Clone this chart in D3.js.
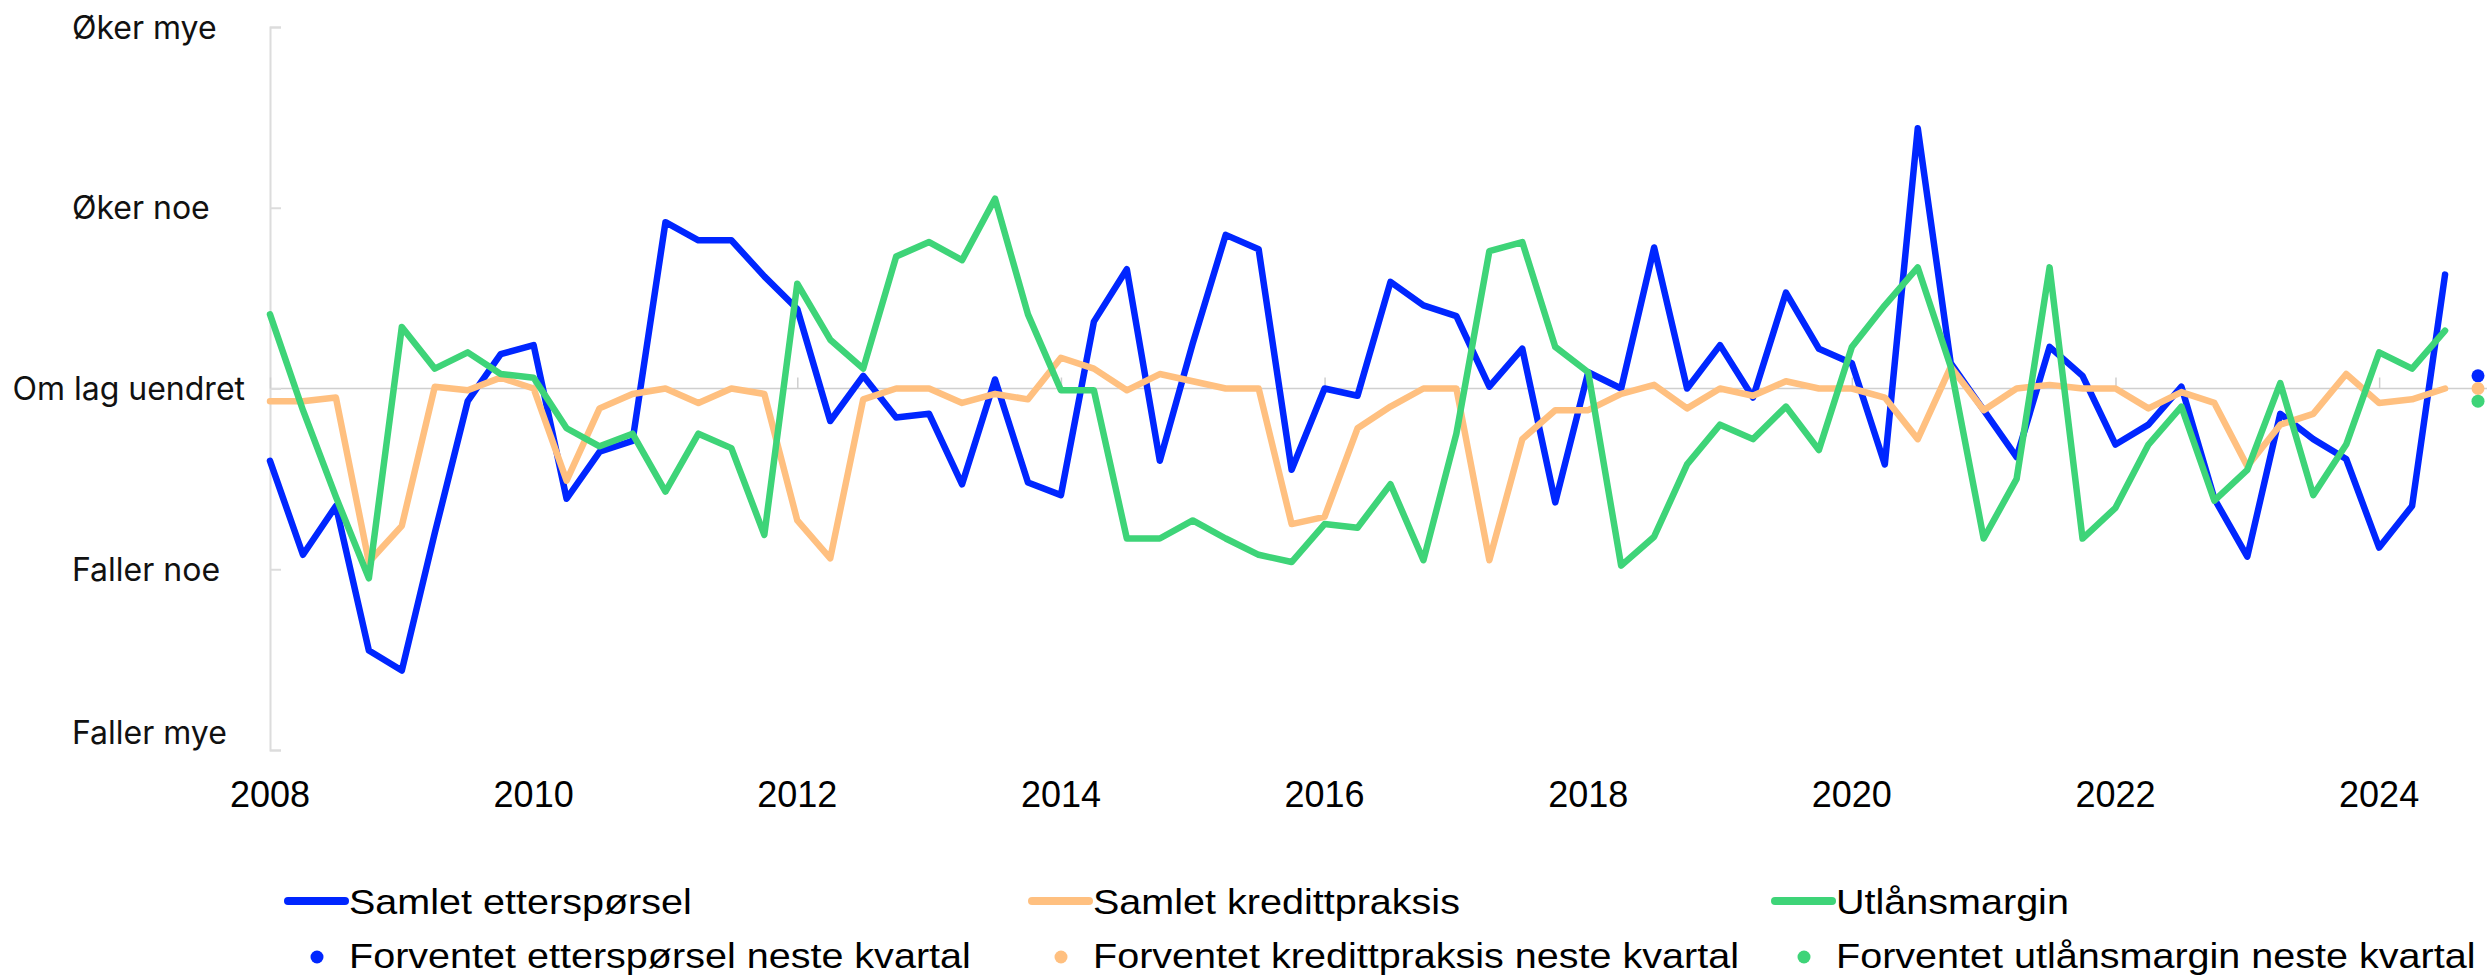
<!DOCTYPE html>
<html>
<head>
<meta charset="utf-8">
<script src="https://cdn.jsdelivr.net/npm/d3@7"></script>
<style>
  body { margin: 0; background: #fff; }
  svg { display: block; }
</style>
</head>
<body>
<div id="main"></div>
<script>
var ctx = {
    width: 2487,
    height: 978,
    left: 270,
    right: 2478,
    top: 27,
    bottom: 750
};

// quarters from 2008 K1 to 2024 K3, forecast at 2024 K4
var startYear = 2008;
var yearTicks = [2008, 2010, 2012, 2014, 2016, 2018, 2020, 2022, 2024];
var yLabels = ["Faller mye", "Faller noe", "Om lag uendret", "Øker noe", "Øker mye"];
var yValues = [-2, -1, 0, 1, 2];

var ettersporsel = [
    -0.40, -0.92, -0.65, -1.45, -1.56, -0.80, -0.07, 0.19,
    0.24, -0.61, -0.35, -0.29, 0.92, 0.82, 0.82, 0.62,
    0.44, -0.18, 0.07, -0.16, -0.14, -0.53, 0.05, -0.52,
    -0.59, 0.37, 0.66, -0.40, 0.25, 0.85, 0.77, -0.45,
    0.00, -0.04, 0.59, 0.46, 0.40, 0.01, 0.22, -0.63,
    0.09, 0.00, 0.78, 0.00, 0.24, -0.05, 0.53, 0.22,
    0.14, -0.42, 1.44, 0.14, -0.12, -0.38, 0.23, 0.07,
    -0.31, -0.20, 0.01, -0.61, -0.93, -0.14, -0.28, -0.39,
    -0.88, -0.65, 0.63
];
var kredittpraksis = [
    -0.07, -0.07, -0.05, -0.96, -0.76, 0.01, -0.01, 0.06,
    0.00, -0.51, -0.11, -0.03, 0.00, -0.08, 0.00, -0.03,
    -0.73, -0.94, -0.06, 0.00, 0.00, -0.08, -0.03, -0.06,
    0.17, 0.11, -0.01, 0.08, 0.04, 0.00, 0.00, -0.75,
    -0.71, -0.22, -0.10, 0.00, 0.00, -0.95, -0.28, -0.12,
    -0.12, -0.03, 0.02, -0.11, 0.00, -0.04, 0.04, 0.00,
    0.00, -0.05, -0.28, 0.12, -0.12, 0.00, 0.02, 0.00,
    0.00, -0.11, -0.02, -0.08, -0.43, -0.20, -0.14, 0.08,
    -0.08, -0.06, 0.00
];
var utlansmargin = [
    0.41, -0.12, -0.60, -1.05, 0.34, 0.11, 0.20, 0.08,
    0.06, -0.22, -0.32, -0.25, -0.57, -0.25, -0.33, -0.81,
    0.58, 0.27, 0.11, 0.73, 0.81, 0.71, 1.05, 0.41,
    -0.01, -0.01, -0.83, -0.83, -0.73, -0.83, -0.92, -0.96,
    -0.75, -0.77, -0.53, -0.95, -0.25, 0.76, 0.81, 0.23,
    0.09, -0.98, -0.82, -0.42, -0.20, -0.28, -0.10, -0.34,
    0.23, 0.46, 0.67, 0.12, -0.83, -0.50, 0.67, -0.83,
    -0.66, -0.31, -0.10, -0.62, -0.45, 0.03, -0.59, -0.31,
    0.20, 0.11, 0.32
];
// expected next quarter
var forventet = [0.07, 0.00, -0.07];

var seriesNames = ["Samlet etterspørsel", "Samlet kredittpraksis", "Utlånsmargin"];
var forecastNames = ["Forventet etterspørsel neste kvartal", "Forventet kredittpraksis neste kvartal", "Forventet utlånsmargin neste kvartal"];
var colors = ["#0026ff", "#ffc080", "#3ed478"];

var createChart = function(svg) {
    svg.attr("width", ctx.width).attr("height", ctx.height);

    var n = ettersporsel.length;
    var x = d3.scaleLinear()
              .domain([startYear, startYear + n / 4])
              .range([ctx.left, ctx.right]);
    var y = d3.scaleLinear()
              .domain([-2, 2])
              .range([ctx.bottom, ctx.top]);
    var qx = function(i) { return x(startYear + i / 4); };

    // zero line
    svg.append("line")
       .attr("x1", ctx.left).attr("x2", ctx.width)
       .attr("y1", y(0)).attr("y2", y(0))
       .attr("stroke", "#cfcfcf").attr("stroke-width", 1.5);

    // y axis, ticks pointing into the plot
    var yAxis = svg.append("g")
        .attr("transform", "translate(" + ctx.left + ",0)")
        .call(d3.axisRight(y).tickValues(yValues).tickSize(11).tickFormat(""));
    yAxis.select(".domain").attr("stroke", "#dcdcdc").attr("stroke-width", 2);
    yAxis.selectAll(".tick line").attr("stroke", "#dcdcdc").attr("stroke-width", 2);

    var yl = svg.append("g").selectAll("text")
        .data(yValues)
        .enter().append("text")
        .attr("y", function(d) { return Math.min(y(d), 732); })
        .attr("dy", "0.36em")
        .attr("font-family", "Inter, 'Noto Sans', sans-serif")
        .attr("font-size", 32)
        .attr("fill", "#111")
        .text(function(d, i) { return yLabels[i]; });
    yl.attr("x", function() {
        return Math.min(72, 245 - this.getComputedTextLength());
    });

    // x ticks on the zero line
    var xAxis = svg.append("g")
        .attr("transform", "translate(0," + y(0) + ")")
        .call(d3.axisTop(x).tickValues(yearTicks).tickSize(11).tickFormat(""));
    xAxis.select(".domain").remove();
    xAxis.selectAll(".tick line").attr("stroke", "#cfcfcf").attr("stroke-width", 1.5);

    svg.append("g").selectAll("text")
       .data(yearTicks)
       .enter().append("text")
       .attr("x", function(d) { return x(d); })
       .attr("y", 807)
       .attr("text-anchor", "middle")
       .attr("font-family", "'Liberation Sans', Arial, sans-serif")
       .attr("font-size", 36)
       .attr("fill", "#000")
       .text(function(d) { return d; });

    // lines
    var line = d3.line()
                 .x(function(d, i) { return qx(i); })
                 .y(function(d) { return y(d); });
    var allSeries = [ettersporsel, kredittpraksis, utlansmargin];
    svg.append("g").selectAll("path")
       .data(allSeries)
       .enter().append("path")
       .attr("d", line)
       .attr("fill", "none")
       .attr("stroke", function(d, i) { return colors[i]; })
       .attr("stroke-width", 6.5)
       .attr("stroke-linejoin", "round")
       .attr("stroke-linecap", "round");

    // forecast dots
    svg.append("g").selectAll("circle")
       .data(forventet)
       .enter().append("circle")
       .attr("cx", qx(n))
       .attr("cy", function(d) { return y(d); })
       .attr("r", 6.5)
       .attr("fill", function(d, i) { return colors[i]; });

    // legend
    var legX = [288, 1032, 1775];
    var leg = svg.append("g");
    seriesNames.forEach(function(name, i) {
        leg.append("line")
           .attr("x1", legX[i]).attr("x2", legX[i] + 57)
           .attr("y1", 901).attr("y2", 901)
           .attr("stroke", colors[i]).attr("stroke-width", 8)
           .attr("stroke-linecap", "round");
        leg.append("text")
           .attr("transform", "translate(" + (legX[i] + 61) + ",914) scale(1.13,1)")
           .attr("font-family", "'Liberation Sans', Arial, sans-serif")
           .attr("font-size", 35)
           .text(name);
        leg.append("circle")
           .attr("cx", legX[i] + 29).attr("cy", 957).attr("r", 6.5)
           .attr("fill", colors[i]);
        leg.append("text")
           .attr("transform", "translate(" + (legX[i] + 61) + ",968) scale(1.13,1)")
           .attr("font-family", "'Liberation Sans', Arial, sans-serif")
           .attr("font-size", 35)
           .text(forecastNames[i]);
    });
};

createChart(d3.select("#main").append("svg"));
</script>
</body>
</html>
